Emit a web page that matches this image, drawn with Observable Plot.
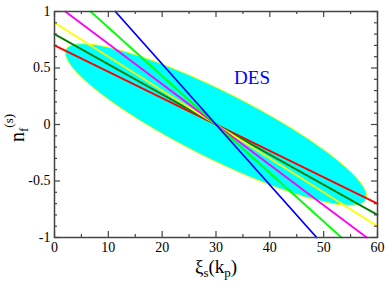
<!DOCTYPE html>
<html><head><meta charset="utf-8">
<script src="https://cdn.jsdelivr.net/npm/d3@7"></script>
<script src="https://cdn.jsdelivr.net/npm/@observablehq/plot@0.6"></script>
<style>
body{margin:0;background:#fff}
svg, svg text, svg tspan { font-family: "Liberation Serif", "DejaVu Serif", "Times New Roman", Times, serif !important; }
</style>
</head><body><div id="chart"></div>
<script>
// ---- data ----
const seriesNames  = ["red", "darkgreen", "yellow", "magenta", "green", "blue"];
const seriesColors = ["#ff0000", "#008000", "#ffff00", "#ff00ff", "#00ff00", "#0000ff"];
const lineStartX = [0, 0, 0, 2, 6.7, 11.3];
const lineStartY = [0.70, 0.80, 0.90, 1, 1, 1];
const lineEndX   = [60, 60, 60, 58, 53.3, 48.7];
const lineEndY   = [-0.70, -0.80, -0.90, -1, -1, -1];

// DES confidence ellipse (centre, horizontal half-extent, vertical half-extent, half-height at centre x)
const ellipseCenter = [30, 0];
const ellipseHalfX = 28;
const ellipseHalfY = 0.715;
const ellipseHalfAtCenter = 0.33;

const annotationText = ["DES"];
const annotationX = [36.7];
const annotationY = [0.41];

const xTicks = [0, 10, 20, 30, 40, 50, 60];
const xMinorTicks = [5, 15, 25, 35, 45, 55];
const yTicks = [-1, -0.5, 0, 0.5, 1];
const yMinorTicks = [-0.9, -0.8, -0.7, -0.6, -0.4, -0.3, -0.2, -0.1, 0.1, 0.2, 0.3, 0.4, 0.6, 0.7, 0.8, 0.9];

// ---- build tables ----
const segs = [];
seriesNames.forEach((s, i) => {
  segs.push({s, x: lineStartX[i], y: lineStartY[i]});
  segs.push({s, x: lineEndX[i], y: lineEndY[i]});
});
const phi = Math.asin(ellipseHalfAtCenter / ellipseHalfY);
const ell = d3.range(0, 360, 2).map(deg => {
  const t = deg * Math.PI / 180;
  return {x: ellipseCenter[0] - ellipseHalfX * Math.cos(t), y: ellipseCenter[1] + ellipseHalfY * Math.cos(t - phi)};
});
const ann = annotationText.map((t, i) => ({t, x: annotationX[i], y: annotationY[i]}));

const W = 390, H = 285, mt = 11, mr = 13, mb = 48, ml = 54;
const pH = H - mt - mb, pW = W - ml - mr;
const axisColor = "#444";
const serif = "'Liberation Serif', 'DejaVu Serif', 'Times New Roman', Times, serif";
const fmt = d => String(d);

const svg = Plot.plot({
  width: W, height: H,
  marginTop: mt, marginRight: mr, marginBottom: mb, marginLeft: ml,
  style: {fontFamily: serif, fontSize: "14px", background: "#fff", overflow: "visible"},
  x: {domain: [0, 60], label: null},
  y: {domain: [-1, 1], label: null},
  marks: [
    Plot.line(ell, {x: "x", y: "y", curve: "linear-closed", fill: "#00ffff", stroke: "#ffff00", strokeWidth: 1}),
    Plot.line(segs, {x: "x", y: "y", z: "s", stroke: d => seriesColors[seriesNames.indexOf(d.s)], strokeWidth: 1.8}),
    Plot.text(ann, {x: "x", y: "y", text: "t", fill: "#0000ff", fontSize: 19, fontFamily: serif, textAnchor: "middle"}),
    // inward ticks on all four sides
    Plot.tickX(xTicks, {x: d => d, insetTop: pH - 6, stroke: axisColor, strokeWidth: 1.2}),
    Plot.tickX(xTicks, {x: d => d, insetBottom: pH - 6, stroke: axisColor, strokeWidth: 1.2}),
    Plot.tickX(xMinorTicks, {x: d => d, insetTop: pH - 3, stroke: axisColor, strokeWidth: 1.2}),
    Plot.tickX(xMinorTicks, {x: d => d, insetBottom: pH - 3, stroke: axisColor, strokeWidth: 1.2}),
    Plot.tickY(yTicks, {y: d => d, insetRight: pW - 6, stroke: axisColor, strokeWidth: 1.2}),
    Plot.tickY(yTicks, {y: d => d, insetLeft: pW - 6, stroke: axisColor, strokeWidth: 1.2}),
    Plot.tickY(yMinorTicks, {y: d => d, insetRight: pW - 3, stroke: axisColor, strokeWidth: 1.2}),
    Plot.tickY(yMinorTicks, {y: d => d, insetLeft: pW - 3, stroke: axisColor, strokeWidth: 1.2}),
    Plot.axisX(xTicks, {tickSize: 0, tickPadding: 5, tickFormat: fmt, fontSize: 14, fontFamily: serif, fill: "#000"}),
    Plot.axisY(yTicks, {tickSize: 0, tickPadding: 4, tickFormat: fmt, fontSize: 14, fontFamily: serif, fill: "#000"}),
    Plot.frame({stroke: axisColor, strokeWidth: 1.5})
  ]
});

const sel = d3.select(svg);
sel.attr("font-family", serif);
// x-axis title: ξs(kp)
const xt = sel.append("text")
  .attr("x", 216).attr("y", 273).attr("text-anchor", "middle")
  .attr("font-family", serif).attr("font-size", 19).attr("fill", "#000");
xt.append("tspan").text("ξ");
xt.append("tspan").attr("dy", 4).attr("font-size", 13).text("s");
xt.append("tspan").attr("dy", -4).text("(k");
xt.append("tspan").attr("dy", 4).attr("font-size", 13).text("p");
xt.append("tspan").attr("dy", -4).text(")");

// y-axis title: n_f^(s)
const yt = sel.append("text")
  .attr("transform", "translate(24,128) rotate(-90)").attr("text-anchor", "middle")
  .attr("font-family", serif).attr("font-size", 20).attr("fill", "#000");
yt.append("tspan").text("n");
yt.append("tspan").attr("dy", 4).attr("font-size", 13).text("f");
yt.append("tspan").attr("dy", -15).attr("font-size", 13).text("(s)");

document.getElementById("chart").appendChild(svg);
</script>
</body></html>
